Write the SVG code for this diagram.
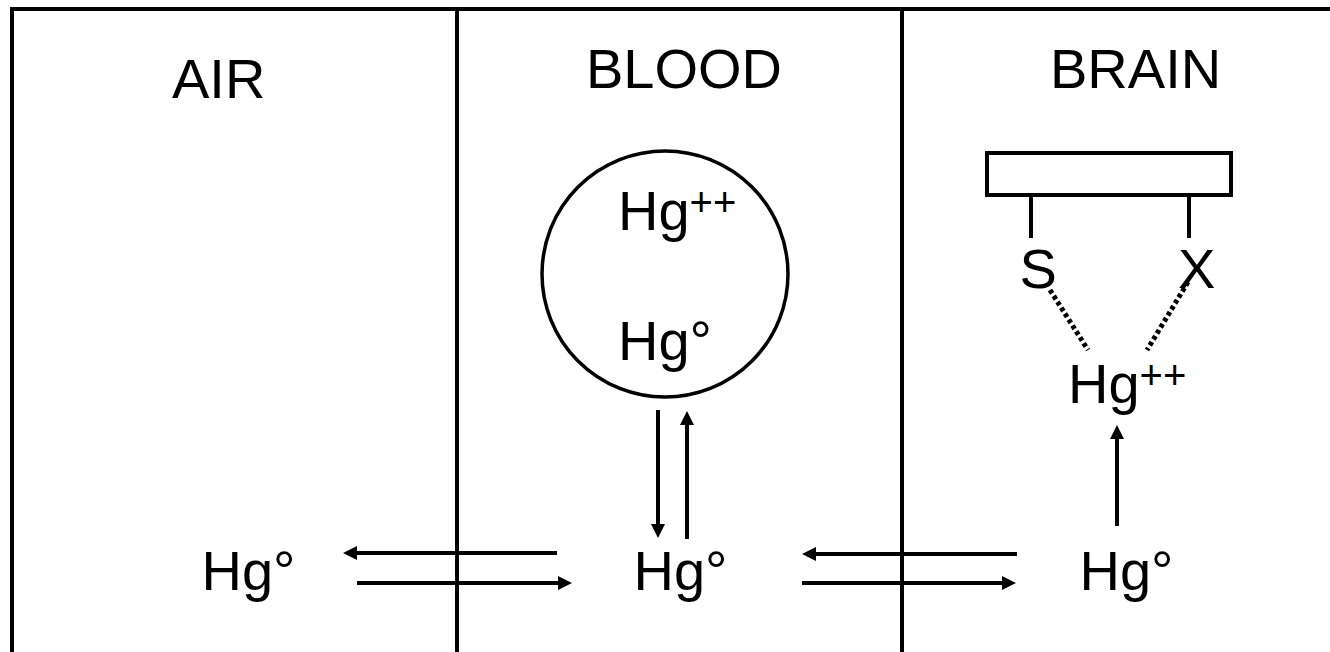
<svg xmlns="http://www.w3.org/2000/svg" width="1330" height="652" viewBox="0 0 1330 652">
<style>
text{font-family:"Liberation Sans",Arial,sans-serif;font-size:56px;fill:#000}
.sup{font-size:40px}
.ln{stroke:#000;stroke-width:4;fill:none}
.arr{stroke:#000;stroke-width:4;fill:none;marker-end:url(#ah)}
.dot{stroke:#000;stroke-width:5;stroke-dasharray:4 3;fill:none}
</style>
<defs>
<marker id="ah" viewBox="0 0 14 14" refX="0" refY="7" markerWidth="14" markerHeight="14" markerUnits="userSpaceOnUse" orient="auto">
<path d="M0,0 L14,7 L0,14 z" fill="#000"/>
</marker>
</defs>
<rect width="1330" height="652" fill="#fff"/>
<g id="frame">
<path class="ln" d="M12,652 V9 H1330"/>
<line class="ln" x1="457" y1="9" x2="457" y2="652"/>
<line class="ln" x1="902" y1="9" x2="902" y2="652"/>
</g>
<g id="air">
<text x="172" y="98">AIR</text>
<text x="201.5" y="590">Hg°</text>
</g>
<g id="blood">
<text x="586" y="88">BLOOD</text>
<text x="633.5" y="590">Hg°</text>
</g>
<g id="cell">
<circle cx="665" cy="274" r="123" fill="none" stroke="#000" stroke-width="3.5"/>
<text x="618" y="230">Hg<tspan class="sup" dy="-14">++</tspan></text>
<text x="618" y="360">Hg°</text>
</g>
<g id="brain">
<text x="1050" y="88">BRAIN</text>
<text x="1079.5" y="590">Hg°</text>
</g>
<g id="protein">
<rect x="987" y="153" width="244" height="42" fill="none" stroke="#000" stroke-width="4"/>
<line class="ln" x1="1031" y1="195" x2="1031" y2="238"/>
<line class="ln" x1="1189" y1="195" x2="1189" y2="238"/>
<text x="1019.5" y="288">S</text>
<text x="1178" y="288">X</text>
</g>
<g id="bound-hg">
<text x="1068" y="403">Hg<tspan class="sup" dy="-14">++</tspan></text>
</g>
<g id="connectors">
<line class="arr" x1="557" y1="553" x2="357" y2="553"/>
<line class="arr" x1="357" y1="583" x2="558" y2="583"/>
<line class="arr" x1="1017" y1="554" x2="816" y2="554"/>
<line class="arr" x1="802" y1="583" x2="1002" y2="583"/>
<line class="arr" x1="658" y1="410" x2="658" y2="524"/>
<line class="arr" x1="687" y1="539" x2="687" y2="425"/>
<line class="arr" x1="1117" y1="526" x2="1117" y2="439"/>
<line class="dot" x1="1050" y1="290" x2="1088" y2="350"/>
<line class="dot" x1="1188" y1="282" x2="1147" y2="350"/>
</g>
</svg>
